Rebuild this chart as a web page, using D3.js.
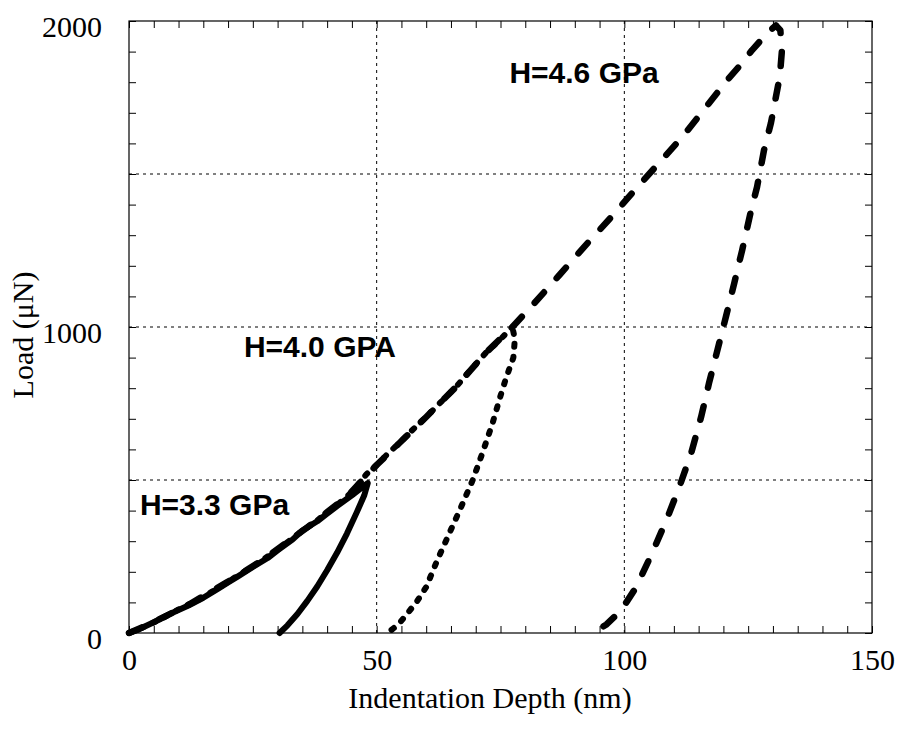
<!DOCTYPE html>
<html>
<head>
<meta charset="utf-8">
<script src="https://cdn.jsdelivr.net/npm/d3@7"></script>
<style>
  body { margin: 0; background: #fff; }
  svg { display: block; }
</style>
</head>
<body>
<div id="chart"></div>
<script>
// H=3.3 GPa run (solid): loading then unloading
const depth33 = [0, 2, 5, 8, 10, 12, 15, 18, 20, 22, 25, 28, 30, 33, 35, 38, 40, 42, 45, 47, 48.2,
                 47.5, 46, 44, 42, 40, 38, 36, 34, 32, 30.4];
const load33  = [0, 12, 35, 60, 75, 90, 115, 145, 165, 185, 216, 245, 270, 305, 335, 365, 390, 415, 450, 475, 490,
                 450, 395, 325, 262, 205, 152, 105, 62, 25, 0];

// H=4.0 GPa run (dotted)
const depth40 = [0, 3, 6, 10, 14, 18, 22, 26, 30, 34, 38, 42, 45, 48, 50, 52.5, 54.6, 57, 60, 63, 66, 69, 72, 75, 77.4,
                 77.9, 77.6, 76.2, 75, 73.4, 71.5, 69.4, 67, 64.7, 62.3, 60, 58, 56, 54.5, 53];
const load40  = [0, 20, 42, 77, 108, 147, 188, 228, 272, 322, 368, 418, 460, 520, 549, 590, 621, 660, 706, 755, 804, 860, 915, 960, 1000,
                 960, 900, 837, 775, 686, 595, 500, 410, 327, 240, 150, 100, 60, 30, 10];

// H=4.6 GPa run (dashed)
const depth46 = [0, 4, 8, 12, 16, 20, 24, 28, 32, 36, 40, 44, 48, 50, 54.6, 60, 66, 72, 77.4, 81.5, 86.9, 91.9, 97.4, 101.6,
                 107, 111.7, 116.5, 120.8, 123.8, 125.8, 128, 129.5, 130.6, 131.5,
                 131.8, 131.4, 130.6, 129.6, 128.2, 126.8, 125.6, 123.8, 122.2, 120.5, 118.8, 117.1, 115.5, 113.5,
                 111.1, 108.5, 105.6, 102.4, 99.4, 96.4, 95.8];
const load46  = [0, 28, 60, 92, 130, 168, 208, 250, 298, 345, 395, 445, 515, 549, 621, 706, 804, 915, 1000, 1072, 1170, 1262, 1360, 1438,
                 1536, 1621, 1719, 1807, 1863, 1905, 1945, 1970, 1985, 1970,
                 1900, 1820, 1752, 1667, 1578, 1458, 1382, 1252, 1144, 1033, 925, 817, 706, 588,
                 477, 369, 261, 150, 75, 28, 22];

const labelText = ["H=4.6 GPa", "H=4.0 GPA", "H=3.3 GPa"];
const labelX = [76.8, 23.2, 2.2];
const labelY = [1797, 902, 386];

const xMajor = [0, 50, 100, 150];
const yMajor = [0, 1000, 2000];
const xGrid = [50, 100];
const yGrid = [500, 1000, 1500];

const W = 899, H = 731;
const m = {left: 129, right: 872, top: 21, bottom: 633};

const svg = d3.select("#chart").append("svg")
    .attr("width", W).attr("height", H);

const x = d3.scaleLinear().domain([0, 150]).range([m.left, m.right]);
const y = d3.scaleLinear().domain([0, 2000]).range([m.bottom, m.top]);

// grid
svg.append("g").selectAll("line").data(xGrid).enter().append("line")
    .attr("x1", d => x(d)).attr("x2", d => x(d))
    .attr("y1", m.top).attr("y2", m.bottom)
    .attr("stroke", "#000").attr("stroke-width", 1).attr("stroke-dasharray", "3,4");
svg.append("g").selectAll("line").data(yGrid).enter().append("line")
    .attr("x1", m.left).attr("x2", m.right)
    .attr("y1", d => y(d)).attr("y2", d => y(d))
    .attr("stroke", "#000").attr("stroke-width", 1).attr("stroke-dasharray", "3,4");

// axes, ticks pointing inward
const serif = "'Liberation Serif', 'Times New Roman', serif";
const xTicks = d3.range(0, 151, 5);
const yTicks = d3.range(0, 2001, 100);

const gb = svg.append("g").attr("transform", `translate(0,${m.bottom})`)
    .call(d3.axisBottom(x).tickValues(xTicks).tickSize(-7).tickPadding(16)
        .tickFormat(d => xMajor.includes(d) ? d : ""));
const gt = svg.append("g").attr("transform", `translate(0,${m.top})`)
    .call(d3.axisTop(x).tickValues(xTicks).tickSize(-7).tickFormat(""));
const gl = svg.append("g").attr("transform", `translate(${m.left},0)`)
    .call(d3.axisLeft(y).tickValues(yTicks).tickSize(-7).tickPadding(27)
        .tickFormat(d => yMajor.includes(d) ? d : ""));
const gr = svg.append("g").attr("transform", `translate(${m.right},0)`)
    .call(d3.axisRight(y).tickValues(yTicks).tickSize(-7).tickFormat(""));

[gb, gt, gl, gr].forEach(g => {
    g.select(".domain").remove();
    g.selectAll(".tick line").attr("stroke", "#000").attr("stroke-width", 1);
    g.selectAll("text").attr("fill", "#000")
        .style("font-family", serif).style("font-size", "30px");
});
gl.selectAll("text").attr("dy", "0.5em");

svg.append("rect")
    .attr("x", m.left).attr("y", m.top)
    .attr("width", m.right - m.left).attr("height", m.bottom - m.top)
    .attr("fill", "none").attr("stroke", "#000").attr("stroke-width", 1.2);

// curves
const line = d3.line().x(d => x(d[0])).y(d => y(d[1]));

function addCurve(pts, dash, w) {
    svg.append("path")
        .datum(pts)
        .attr("d", line)
        .attr("fill", "none")
        .attr("stroke", "#000")
        .attr("stroke-width", w)
        .attr("stroke-linecap", "round")
        .attr("stroke-linejoin", "round")
        .attr("stroke-dasharray", dash);
}
// split each run at peak load; unloading drawn from the bottom up so the pattern starts at its end
function addRun(xs, ys, dash, w) {
    const pts = d3.zip(xs, ys);
    const k = d3.maxIndex(ys);
    addCurve(pts.slice(0, k + 1), dash, w);
    addCurve(pts.slice(k).reverse(), dash, w);
}
addRun(depth46, load46, "14,19", 6.5);
addRun(depth40, load40, "3,10", 6);
addCurve(d3.zip(depth33, load33), null, 6);

// annotations
svg.append("g").selectAll("text").data(labelText).enter().append("text")
    .attr("x", (d, i) => x(labelX[i]))
    .attr("y", (d, i) => y(labelY[i]))
    .style("font-family", "'Liberation Sans', Arial, sans-serif")
    .style("font-weight", "bold")
    .style("font-size", "30px")
    .text(d => d);

// axis titles
svg.append("text")
    .attr("x", 490).attr("y", 708)
    .attr("text-anchor", "middle")
    .style("font-family", serif).style("font-size", "30px")
    .text("Indentation Depth (nm)");

svg.append("text")
    .attr("transform", "translate(33,335) rotate(-90)")
    .attr("text-anchor", "middle")
    .style("font-family", serif).style("font-size", "30px")
    .text("Load (μN)");
</script>
</body>
</html>
